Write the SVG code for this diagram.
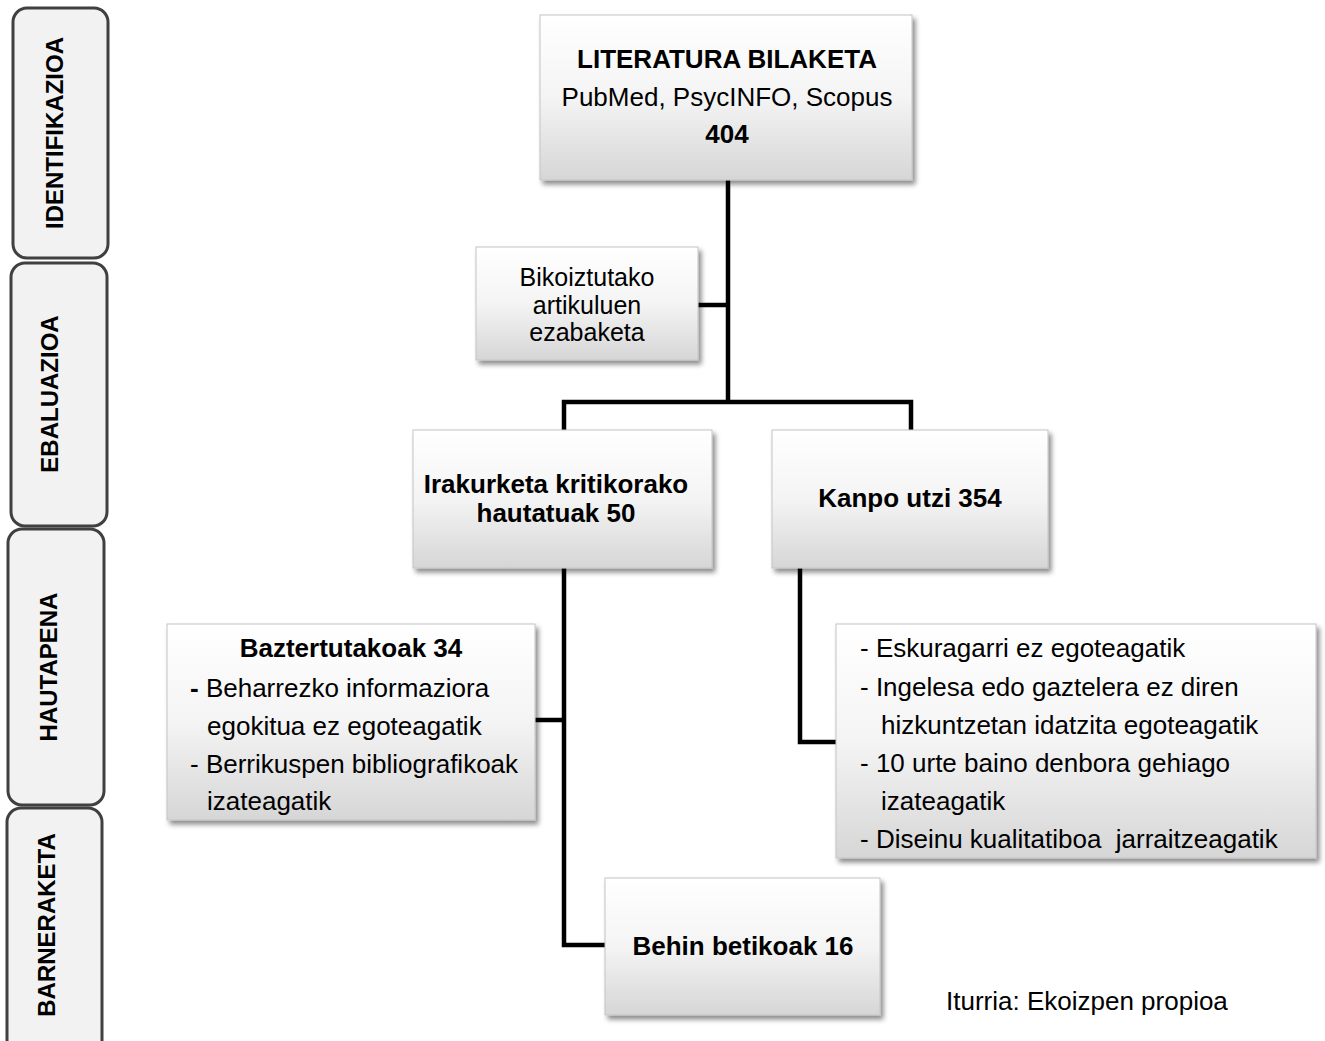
<svg xmlns="http://www.w3.org/2000/svg" width="1325" height="1041" viewBox="0 0 1325 1041">
<style>
.tab{fill:#f2f2f2;stroke:#404040;stroke-width:3}
.tabt{font-family:"Liberation Sans",Arial,sans-serif;font-weight:bold;font-size:24px;fill:#000;text-anchor:middle}
.box{fill:url(#g);stroke:#c4c4c4;stroke-width:1;filter:url(#sh)}
.t{font-family:"Liberation Sans",Arial,sans-serif;font-size:26px;fill:#000}
.s{font-size:25px}
.b{font-weight:bold}
.c{text-anchor:middle}
.con{fill:none;stroke:#000;stroke-width:4.5;stroke-linejoin:miter}
</style>
<defs>
<linearGradient id="g" x1="0" y1="0" x2="0" y2="1">
<stop offset="0" stop-color="#ffffff"/>
<stop offset="0.5" stop-color="#f4f4f4"/>
<stop offset="1" stop-color="#d6d6d6"/>
</linearGradient>
<filter id="sh" x="-10%" y="-10%" width="125%" height="130%">
<feDropShadow dx="3" dy="4" stdDeviation="2.5" flood-color="#000" flood-opacity="0.45"/>
</filter>
</defs>

<g id="tab-identifikazioa">
<rect class="tab" x="13" y="8" width="95" height="250" rx="14"/>
<text class="tabt" transform="translate(63,133) rotate(-90)">IDENTIFIKAZIOA</text>
</g>
<g id="tab-ebaluazioa">
<rect class="tab" x="11" y="263" width="96" height="263" rx="14"/>
<text class="tabt" transform="translate(58,394) rotate(-90)">EBALUAZIOA</text>
</g>
<g id="tab-hautapena">
<rect class="tab" x="8" y="529" width="96" height="276" rx="14"/>
<text class="tabt" transform="translate(57,667) rotate(-90)">HAUTAPENA</text>
</g>
<g id="tab-barneraketa">
<rect class="tab" x="7" y="808" width="95" height="260" rx="14"/>
<text class="tabt" transform="translate(55,925) rotate(-90)">BARNERAKETA</text>
</g>

<g id="connectors">
<path class="con" d="M728 180 V402"/>
<path class="con" d="M698 305 H728"/>
<path class="con" d="M564 430 V402 H911 V430"/>
<path class="con" d="M564 568 V945 H605"/>
<path class="con" d="M535 720 H564"/>
<path class="con" d="M800 568 V742 H836"/>
</g>

<g id="literatura-bilaketa">
<rect class="box" x="540" y="15" width="372" height="165"/>
<text class="t b c" x="727" y="68">LITERATURA BILAKETA</text>
<text class="t c" x="727" y="106">PubMed, PsycINFO, Scopus</text>
<text class="t b c" x="727" y="143">404</text>
</g>

<g id="bikoiztutako">
<rect class="box" x="476" y="247" width="222" height="113"/>
<text class="t s c" x="587" y="286">Bikoiztutako</text>
<text class="t s c" x="587" y="313.5">artikuluen</text>
<text class="t s c" x="587" y="341">ezabaketa</text>
</g>

<g id="irakurketa">
<rect class="box" x="413" y="430" width="299" height="138"/>
<text class="t b c" x="556" y="493">Irakurketa kritikorako</text>
<text class="t b c" x="556" y="522">hautatuak 50</text>
</g>

<g id="kanpo-utzi">
<rect class="box" x="772" y="430" width="276" height="138"/>
<text class="t b c" x="910" y="507">Kanpo utzi 354</text>
</g>

<g id="baztertutakoak">
<rect class="box" x="167" y="624" width="368" height="196"/>
<text class="t b c" x="351" y="657">Baztertutakoak 34</text>
<text class="t" x="190" y="697"><tspan class="b">-</tspan> Beharrezko informaziora</text>
<text class="t" x="207" y="735">egokitua ez egoteagatik</text>
<text class="t" x="190" y="773">- Berrikuspen bibliografikoak</text>
<text class="t" x="207" y="810">izateagatik</text>
</g>

<g id="kanpo-arrazoiak">
<rect class="box" x="836" y="624" width="480" height="234"/>
<text class="t" x="860" y="657">- Eskuragarri ez egoteagatik</text>
<text class="t" x="860" y="696">- Ingelesa edo gaztelera ez diren</text>
<text class="t" x="881" y="734">hizkuntzetan idatzita egoteagatik</text>
<text class="t" x="860" y="772">- 10 urte baino denbora gehiago</text>
<text class="t" x="881" y="810">izateagatik</text>
<text class="t" x="860" y="848" xml:space="preserve">- Diseinu kualitatiboa  jarraitzeagatik</text>
</g>

<g id="behin-betikoak">
<rect class="box" x="605" y="878" width="275" height="137"/>
<text class="t b c" x="743" y="955">Behin betikoak 16</text>
</g>

<text class="t" x="946" y="1010">Iturria: Ekoizpen propioa</text>
</svg>
